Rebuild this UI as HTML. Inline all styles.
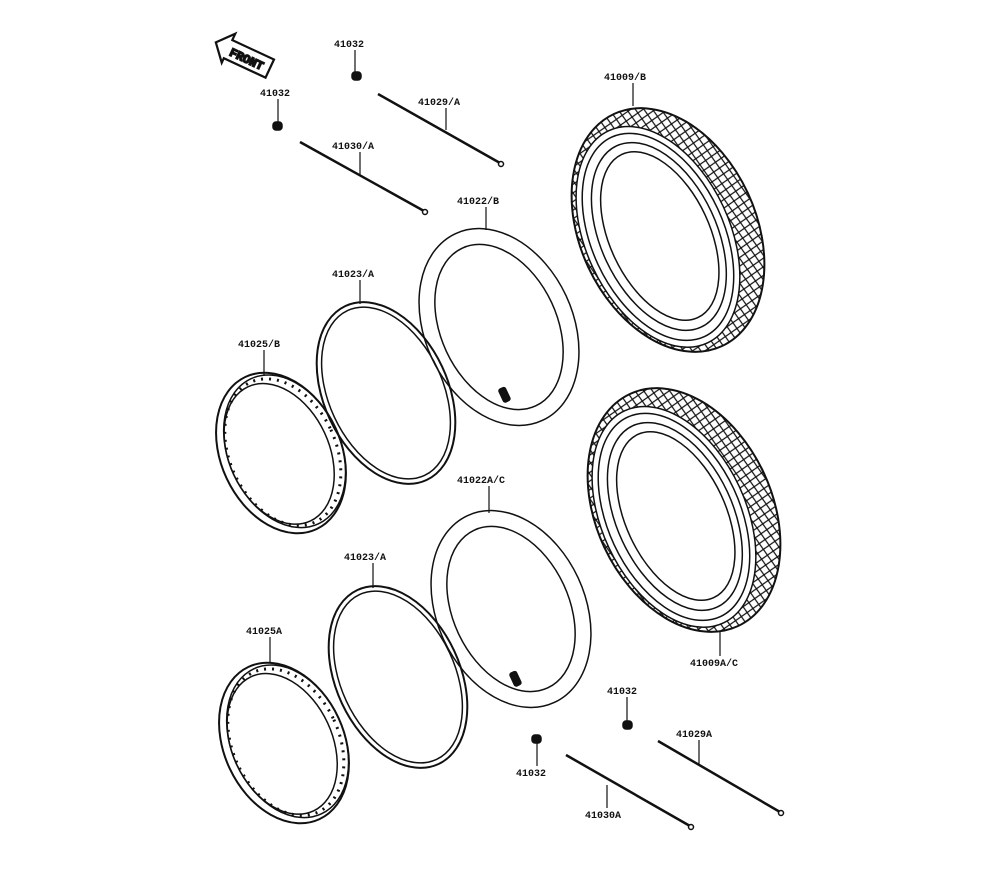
<!DOCTYPE html>
<html><head><meta charset="utf-8"><style>
html,body{margin:0;padding:0;background:#fff;}
svg{display:block}
text{font-family:"Liberation Mono","DejaVu Sans Mono",monospace;font-size:10px;font-weight:bold;fill:#111;}
</style></head><body>
<svg width="1000" height="880" viewBox="0 0 1000 880" xmlns="http://www.w3.org/2000/svg" fill="none" stroke="#111" stroke-width="1.5">
<defs>
<pattern id="tread" width="10" height="10" patternUnits="userSpaceOnUse" patternTransform="rotate(35)">
<rect width="10" height="10" fill="#fff" stroke="none"/>
<path d="M0 0 L10 10 M10 0 L0 10" stroke="#111" stroke-width="1.2"/>
</pattern>
</defs>
<!-- FRONT arrow -->
<g transform="translate(243,55) rotate(25)">
<polygon points="-30,0 -16,-16 -16,-9 30,-9 30,11 -16,11 -16,16" fill="#fff" stroke="#111" stroke-width="2.2"/>
<text x="-13" y="6" style="font-size:12px">FRONT</text>
</g>
<!-- Tire 1 -->
<g transform="translate(668,230) rotate(-25)">
<ellipse rx="88" ry="128" fill="url(#tread)" stroke-width="2"/>
<ellipse cx="-12" cy="2" rx="72" ry="117" fill="#fff"/>
<ellipse cx="-12" cy="2" rx="66" ry="110"/>
<ellipse cx="-11" cy="2" rx="58" ry="100"/>
<ellipse cx="-10" cy="2" rx="50" ry="90"/>
</g>
<!-- Tire 2 -->
<g transform="translate(684,510) rotate(-25)">
<ellipse rx="88" ry="128" fill="url(#tread)" stroke-width="2"/>
<ellipse cx="-12" cy="2" rx="72" ry="117" fill="#fff"/>
<ellipse cx="-12" cy="2" rx="66" ry="110"/>
<ellipse cx="-11" cy="2" rx="58" ry="100"/>
<ellipse cx="-10" cy="2" rx="50" ry="90"/>
</g>
<!-- Tubes -->
<g transform="translate(499,327) rotate(-25)">
<ellipse rx="74" ry="103"/><ellipse rx="58" ry="87"/>
</g>
<rect x="501" y="388" width="7" height="14" rx="2" fill="#111" transform="rotate(-25 504 395)"/>
<g transform="translate(511,609) rotate(-25)">
<ellipse rx="74" ry="103"/><ellipse rx="58" ry="87"/>
</g>
<rect x="512" y="672" width="7" height="14" rx="2" fill="#111" transform="rotate(-25 515 679)"/>
<!-- Rim strips -->
<g transform="translate(386,393) rotate(-25)">
<ellipse rx="62" ry="96" stroke-width="2"/><ellipse rx="57" ry="91"/>
</g>
<g transform="translate(398,677) rotate(-25)">
<ellipse rx="62" ry="96" stroke-width="2"/><ellipse rx="57" ry="91"/>
</g>
<!-- Rims -->
<g transform="translate(281,453) rotate(-25)">
<ellipse rx="60" ry="84" stroke-width="2"/>
<ellipse cx="4" rx="56" ry="80"/>
<ellipse cx="-2" rx="50" ry="74"/>
<ellipse cx="2" rx="53" ry="77" stroke-dasharray="2 6" stroke-width="3"/>
</g>
<g transform="translate(284,743) rotate(-25)">
<ellipse rx="60" ry="84" stroke-width="2"/>
<ellipse cx="4" rx="56" ry="80"/>
<ellipse cx="-2" rx="50" ry="74"/>
<ellipse cx="2" rx="53" ry="77" stroke-dasharray="2 6" stroke-width="3"/>
</g>
<!-- Spokes -->
<g stroke-width="2.5">
<line x1="378" y1="94" x2="500" y2="163"/>
<line x1="300" y1="142" x2="424" y2="211"/>
<line x1="658" y1="741" x2="780" y2="812"/>
<line x1="566" y1="755" x2="690" y2="826"/>
</g>
<g fill="#fff" stroke-width="1.5">
<circle cx="501" cy="164" r="2.5"/><circle cx="425" cy="212" r="2.5"/>
<circle cx="781" cy="813" r="2.5"/><circle cx="691" cy="827" r="2.5"/>
</g>
<!-- Nipples -->
<g fill="#111">
<rect x="352" y="72" width="9" height="8" rx="3"/>
<rect x="273" y="122" width="9" height="8" rx="3"/>
<rect x="623" y="721" width="9" height="8" rx="3"/>
<rect x="532" y="735" width="9" height="8" rx="3"/>
</g>
<!-- leaders -->
<g stroke-width="1.2">
<line x1="355" y1="50" x2="355" y2="72"/>
<line x1="278" y1="99" x2="278" y2="122"/>
<line x1="446" y1="108" x2="446" y2="130"/>
<line x1="360" y1="152" x2="360" y2="176"/>
<line x1="633" y1="83" x2="633" y2="106"/>
<line x1="486" y1="207" x2="486" y2="230"/>
<line x1="360" y1="280" x2="360" y2="304"/>
<line x1="264" y1="350" x2="264" y2="376"/>
<line x1="489" y1="486" x2="489" y2="513"/>
<line x1="373" y1="563" x2="373" y2="588"/>
<line x1="270" y1="637" x2="270" y2="663"/>
<line x1="720" y1="632" x2="720" y2="656"/>
<line x1="627" y1="697" x2="627" y2="721"/>
<line x1="537" y1="743" x2="537" y2="766"/>
<line x1="699" y1="740" x2="699" y2="764"/>
<line x1="607" y1="785" x2="607" y2="808"/>
</g>
<g stroke="none">
<text x="334" y="47">41032</text>
<text x="260" y="96">41032</text>
<text x="418" y="105">41029/A</text>
<text x="332" y="149">41030/A</text>
<text x="604" y="80">41009/B</text>
<text x="457" y="204">41022/B</text>
<text x="332" y="277">41023/A</text>
<text x="238" y="347">41025/B</text>
<text x="457" y="483">41022A/C</text>
<text x="344" y="560">41023/A</text>
<text x="246" y="634">41025A</text>
<text x="690" y="666">41009A/C</text>
<text x="607" y="694">41032</text>
<text x="516" y="776">41032</text>
<text x="676" y="737">41029A</text>
<text x="585" y="818">41030A</text>
</g>
</svg>
</body></html>
